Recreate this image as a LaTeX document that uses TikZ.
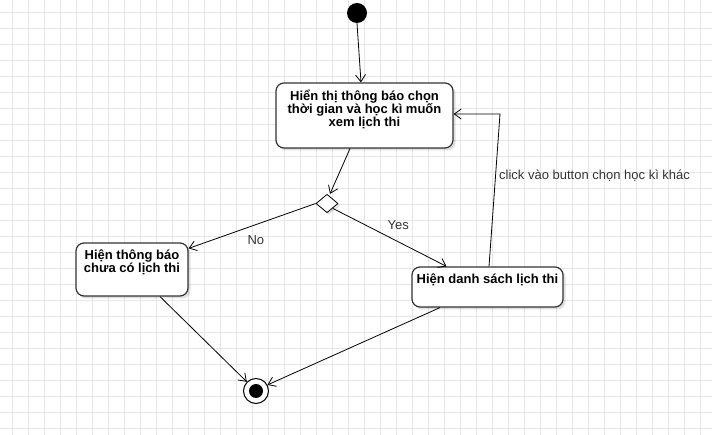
\documentclass[tikz,border=0pt]{standalone}
\usepackage{fontspec}
\setmainfont{Liberation Sans}
\usetikzlibrary{positioning,shapes.geometric,arrows.meta,shadows}
\definecolor{gridgray}{HTML}{E6E6E6}
\definecolor{edgegray}{HTML}{333333}
\tikzset{
    actbox/.style={draw=edgegray, line width=1.2pt, rounded corners=8pt, fill=white,
        drop shadow={shadow xshift=2.5pt, shadow yshift=-2.5pt, opacity=0.12, fill=black}},
    boxtext/.style={font=\bfseries\fontsize{13}{13}\selectfont, align=center, inner sep=0pt},
    flow/.style={draw=black, line width=0.8pt, -{Straight Barb[length=7pt,width=10pt]}},
    edgelabel/.style={font=\fontsize{13}{14}\selectfont, text=edgegray, inner sep=0pt},
    gridline/.style={draw=gridgray, line width=0.7pt},
}
\begin{document}
\begin{tikzpicture}[x=1pt, y=-1pt]
    \useasboundingbox (0,0) rectangle (712,435);
    \fill[white] (0,0) rectangle (712,435);
    % background grid
    \foreach \gx in {12,28,...,708} \draw[gridline] (\gx,0) -- (\gx,435);
    \foreach \gy in {12,28,...,428} \draw[gridline] (0,\gy) -- (712,\gy);

    % states
    \node[circle, fill=black, minimum size=20pt, inner sep=0pt] (start) at (357,13) {};
    \node[actbox, minimum width=177pt, minimum height=65pt] (show) at (364.5,115.5) {};
    \node[boxtext, below=7.5pt of show.north] (showtext) {Hiển thị thông báo chọn\\thời gian và học kì muốn\\xem lịch thi};
    \node[diamond, draw=black, line width=0.8pt, fill=white, inner sep=0pt,
        minimum width=22pt, minimum height=18.5pt,
        drop shadow={shadow xshift=2pt, shadow yshift=-2pt, opacity=0.12, fill=black}] (dec) at (327,203.5) {};
    \node[actbox, minimum width=112pt, minimum height=53pt] (nomsg) at (132,269.5) {};
    \node[boxtext, below=7.5pt of nomsg.north] (nomsgtext) {Hiện thông báo\\chưa có lịch thi};
    \node[actbox, minimum width=151pt, minimum height=40pt] (list) at (487.5,287) {};
    \node[boxtext, below=7pt of list.north] (listtext) {Hiện danh sách lịch thi};
    \node[circle, draw=black, line width=1pt, fill=white, minimum size=25pt, inner sep=0pt] (end) at (256,391) {};
    \node[circle, fill=black, minimum size=14pt, inner sep=0pt] (endin) at (end) {};

    % transitions
    \coordinate (bend) at (500,114);
    \draw[flow] (start.south) -- ([xshift=-3.5pt]show.north);
    \draw[flow] ([xshift=-14.5pt]show.south) -- ([xshift=3pt]dec.north);
    \draw[flow] (dec.west) -- ([yshift=-6pt]nomsg.north east) node[edgelabel, pos=0.47, below=11pt] (nolbl) {No};
    \draw[flow] (dec.south east) -- ([xshift=-41pt]list.north) node[edgelabel, pos=0.4, above right=2pt and 9pt] (yeslbl) {Yes};
    \draw[flow] ([xshift=1.5pt]list.north) -- (bend) -- (bend -| show.east);
    \node[edgelabel, anchor=west] (clicklbl) at (499,176) {click vào button chọn học kì khác};
    \draw[flow] ([xshift=28pt]nomsg.south) -- (end.135);
    \draw[flow] ([xshift=-47.5pt]list.south) -- (end.28);
\end{tikzpicture}
\end{document}
